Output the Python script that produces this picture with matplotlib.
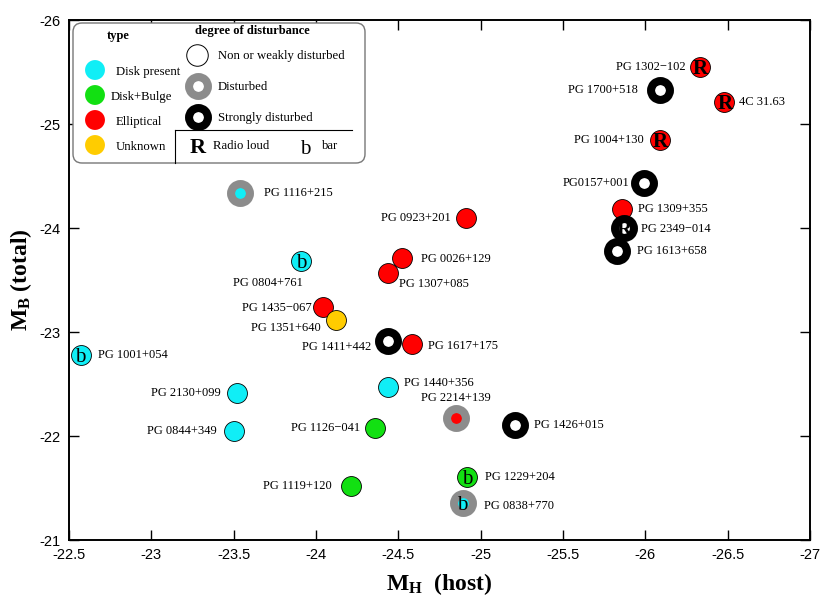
import matplotlib

matplotlib.use("Agg")
import matplotlib.pyplot as plt
from matplotlib.patches import FancyBboxPatch

plt.rcParams["font.family"] = ["Liberation Serif", "DejaVu Serif"]
plt.rcParams["mathtext.fontset"] = "custom"
plt.rcParams["mathtext.rm"] = "Liberation Serif"
plt.rcParams["mathtext.bf"] = "Liberation Serif:bold"
plt.rcParams["axes.unicode_minus"] = False

# --- data ---
names = [
    "PG 1302\u2212102", "PG 1700+518", "4C 31.63", "PG 1004+130", "PG0157+001",
    "PG 1309+355", "PG 2349\u2212014", "PG 1613+658", "PG 1116+215", "PG 0923+201",
    "PG 0026+129", "PG 1307+085", "PG 0804+761", "PG 1435\u2212067", "PG 1351+640",
    "PG 1411+442", "PG 1617+175", "PG 1001+054", "PG 2130+099", "PG 1440+356",
    "PG 2214+139", "PG 0844+349", "PG 1126\u2212041", "PG 1426+015", "PG 1229+204",
    "PG 1119+120", "PG 0838+770",
]
m_host = [
    -26.33, -26.09, -26.48, -26.09, -25.99,
    -25.86, -25.87, -25.83, -23.54, -24.91,
    -24.52, -24.44, -23.91, -24.04, -24.12,
    -24.44, -24.58, -22.57, -23.52, -24.44,
    -24.85, -23.50, -24.36, -25.21, -24.92,
    -24.21, -24.89,
]
m_total = [
    -25.55, -25.33, -25.21, -24.85, -24.43,
    -24.18, -24.00, -23.78, -24.34, -24.10,
    -23.71, -23.57, -23.68, -23.24, -23.12,
    -22.91, -22.88, -22.78, -22.41, -22.47,
    -22.17, -22.05, -22.08, -22.11, -21.61,
    -21.52, -21.36,
]
# host type: disk, bulge (disk+bulge), ell, unk, none (ring only)
host_type = [
    "ell", "none", "ell", "ell", "none",
    "ell", "none", "none", "disk", "ell",
    "ell", "ell", "disk", "ell", "unk",
    "none", "ell", "disk", "disk", "disk",
    "ell", "disk", "bulge", "none", "bulge",
    "bulge", "disk",
]
# degree of disturbance: 0 none/weak, 1 disturbed, 2 strongly
disturb = [
    0, 2, 0, 0, 2,
    0, 2, 2, 1, 0,
    0, 0, 0, 0, 0,
    2, 0, 0, 0, 0,
    1, 0, 0, 2, 0,
    0, 1,
]
flag = [
    "R", "", "R", "R", "",
    "", "R", "", "", "",
    "", "", "b", "", "",
    "", "", "b", "", "",
    "", "", "", "", "b",
    "", "b",
]
x_ticks = [-22.5, -23, -23.5, -24, -24.5, -25, -25.5, -26, -26.5, -27]
y_ticks = [-26, -25, -24, -23, -22, -21]

# label placement (pixel offsets from the marker, horizontal alignment)
label_pos = [
    (-14, 0, "right"), (-22, 0, "right"), (15, 0, "left"), (-16, 0, "right"), (-14, 0, "right"),
    (16, 0, "left"), (17, -1, "left"), (20, 0, "left"), (24, 0, "left"), (-15, 0, "right"),
    (19, -1, "left"), (11, -11, "left"), (2, -22, "right"), (-11, -1, "right"), (-15, -8, "right"),
    (-17, -6, "right"), (16, -2, "left"), (17, 0, "left"), (-16, 0, "right"), (16, 4, "left"),
    (0, 20, "center"), (-17, 0, "right"), (-15, 0, "right"), (19, 0, "left"), (18, 0, "left"),
    (-19, 0, "right"), (21, -3, "left"),
]

colors = {"disk": "#10EEF6", "bulge": "#12E012", "ell": "#FF0000", "unk": "#FFCC00", "none": "white"}
ring_colors = {1: "#8C8C8C", 2: "black"}


def put_flag(axis, x, y, letter, big=False):
    # letters sit on their baseline, shifted down so the glyph body is centred
    if letter == "R":
        axis.annotate("R", (x, y), xytext=(0.5, -7), textcoords="offset pixels", fontsize=15,
                      fontweight="bold", ha="center", va="baseline", zorder=4)
    else:
        axis.annotate("b", (x, y), xytext=(0, -7), textcoords="offset pixels", fontsize=15,
                      ha="center", va="baseline", zorder=4)


fig = plt.figure(figsize=(8.3, 6.04), dpi=100)
ax = fig.add_axes([69 / 830, 1 - 540 / 604, 741 / 830, 520 / 604])

for i, name in enumerate(names):
    x, y = m_host[i], m_total[i]
    d = disturb[i]
    fc = colors[host_type[i]]
    if d == 0:
        ax.scatter([x], [y], s=205, c=fc, edgecolors="black", linewidths=0.6, zorder=3)
    else:
        ax.scatter([x], [y], s=185, c=fc, edgecolors=ring_colors[d], linewidths=5.8, zorder=3)
    if flag[i]:
        put_flag(ax, x, y, flag[i])
    dx, dy, ha = label_pos[i]
    ax.annotate(name, (x, y), xytext=(dx, dy), textcoords="offset pixels",
                ha=ha, va="center", fontsize=9, zorder=5)

ax.set_xlim(-22.5, -27)
ax.set_ylim(-21, -26)
ax.set_xticks(x_ticks)
ax.set_xticklabels([f"{t:g}" for t in x_ticks], family="Liberation Sans", fontsize=10.5)
ax.set_yticks(y_ticks)
ax.set_yticklabels([f"{t:g}" for t in y_ticks], family="Liberation Sans", fontsize=10.5)
ax.tick_params(direction="in", length=7, width=1, top=True, right=True, pad=6)
for sp in ax.spines.values():
    sp.set_linewidth(1.4)

ax.set_xlabel(r"$\mathbf{M_H}$  (host)", fontsize=17, fontweight="bold", labelpad=6)
ax.set_ylabel(r"$\mathbf{M_B}$ (total)", fontsize=17, fontweight="bold", labelpad=4)

# legend panel, drawn in pixel units
lax = fig.add_axes([72 / 830, 1 - 165 / 604, 295 / 830, 143 / 604])
lax.set_xlim(0, 295)
lax.set_ylim(143, 0)
lax.axis("off")
lax.add_patch(FancyBboxPatch((1, 1), 292, 140, boxstyle="round,pad=0,rounding_size=9",
                             fc="white", ec="#777777", lw=1))
lax.text(46, 14, "type", fontsize=9, fontweight="bold", ha="center", va="center")
lax.text(180, 9, "degree of disturbance", fontsize=9, fontweight="bold", ha="center", va="center")

type_items = [("disk", "Disk present", 44), ("bulge", "Disk+Bulge", 39),
              ("ell", "Elliptical", 44), ("unk", "Unknown", 44)]
for k, (key, text, tx) in enumerate(type_items):
    yy = 48 + 25 * k
    lax.scatter([23], [yy], s=205, c=colors[key], edgecolors="none")
    lax.text(tx, yy + 2, text, fontsize=9.2, ha="left", va="center")

dist_items = ["Non or weakly disturbed", "Disturbed", "Strongly disturbed"]
for k, text in enumerate(dist_items):
    yy = 33 + 31 * k
    if k == 0:
        lax.scatter([125], [yy], s=240, c="white", edgecolors="black", linewidths=0.7)
    else:
        lax.scatter([126], [yy], s=185, c="white", edgecolors=ring_colors[k], linewidths=5.8)
    lax.text(146, yy + 1, text, fontsize=9.2, ha="left", va="center")

lax.plot([103, 280], [108, 108], color="black", lw=0.8)
lax.plot([103, 103], [108, 141], color="black", lw=0.8)
lax.text(126, 131, "R", fontsize=16, fontweight="bold", ha="center", va="baseline")
lax.text(141, 124, "Radio loud", fontsize=9.2, ha="left", va="center")
lax.text(233, 132, "b", fontsize=15, ha="center", va="baseline")
lax.text(250, 124, "bar", fontsize=9.2, ha="left", va="center")

fig.savefig("out.png", dpi=100)
